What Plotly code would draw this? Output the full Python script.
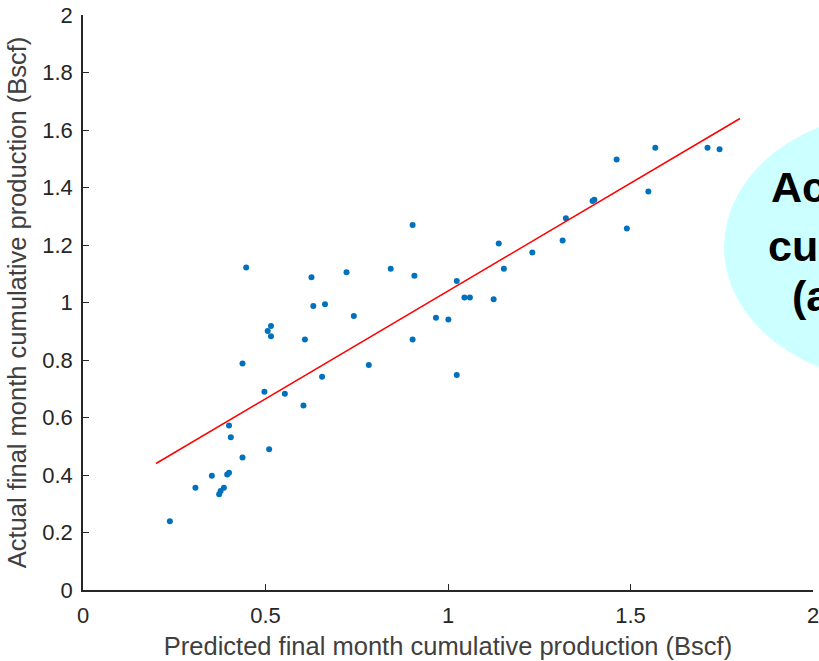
import plotly.graph_objects as go

# Predicted vs. actual final month cumulative production (Bscf)
predicted = [0.238, 0.308, 0.353, 0.373, 0.377, 0.386, 0.395, 0.400, 0.400, 0.405,
             0.437, 0.437, 0.447, 0.497, 0.506, 0.510, 0.515, 0.515, 0.553, 0.604,
             0.608, 0.626, 0.631, 0.655, 0.663, 0.722, 0.742, 0.783, 0.843, 0.903,
             0.903, 0.908, 0.967, 1.001, 1.024, 1.024, 1.045, 1.060, 1.125, 1.139,
             1.153, 1.231, 1.314, 1.323, 1.396, 1.401, 1.462, 1.490, 1.549, 1.568,
             1.711, 1.744]
actual = [0.239, 0.356, 0.397, 0.333, 0.344, 0.356, 0.402, 0.408, 0.572, 0.531,
          0.461, 0.788, 1.122, 0.690, 0.901, 0.490, 0.918, 0.883, 0.683, 0.642,
          0.871, 1.088, 0.988, 0.742, 0.994, 1.105, 0.953, 0.783, 1.117, 1.270,
          0.871, 1.093, 0.947, 0.941, 1.075, 0.748, 1.017, 1.017, 1.011, 1.205,
          1.117, 1.174, 1.216, 1.293, 1.353, 1.357, 1.497, 1.257, 1.386, 1.538,
          1.538, 1.533]

# Fit line endpoints
fit_x = [0.2, 1.8]
fit_intercept = 0.29
fit_slope = 0.75
fit_y = [fit_intercept + fit_slope * v for v in fit_x]

x_ticks = [0, 0.5, 1, 1.5, 2]
x_tick_labels = ["0", "0.5", "1", "1.5", "2"]
y_ticks = [0, 0.2, 0.4, 0.6, 0.8, 1, 1.2, 1.4, 1.6, 1.8, 2]
y_tick_labels = ["0", "0.2", "0.4", "0.6", "0.8", "1", "1.2", "1.4", "1.6", "1.8", "2"]

callout_lines = ["Actual", "cumulative", "(actual)"]

W, H = 819, 661
ML, MR, MT, MB = 83, 6, 15, 71

fig = go.Figure()
fig.add_trace(go.Scatter(
    x=predicted, y=actual, mode="markers",
    marker=dict(color="#0072BD", size=6, line=dict(width=0)),
    showlegend=False, cliponaxis=False,
))
fig.add_trace(go.Scatter(
    x=fit_x, y=fit_y, mode="lines",
    line=dict(color="#FF0000", width=1.5),
    showlegend=False,
))

axis_font = dict(family="Liberation Sans, Arial, sans-serif", size=22, color="#262626")
title_font = dict(family="Liberation Sans, Arial, sans-serif", size=25.5, color="#404040")

fig.update_xaxes(
    range=[0, 2], tickvals=x_ticks, ticktext=x_tick_labels,
    ticks="inside", ticklen=6, tickwidth=1.3, tickcolor="#262626",
    showline=True, linecolor="#262626", linewidth=1.5,
    showgrid=False, zeroline=False, tickfont=axis_font,
    ticklabelstandoff=5, ticklabeloverflow="allow", automargin=False,
    title=dict(text="Predicted final month cumulative production (Bscf)",
               font=title_font, standoff=10),
)
fig.update_yaxes(
    range=[0, 2], tickvals=y_ticks, ticktext=y_tick_labels,
    ticks="inside", ticklen=6, tickwidth=1.3, tickcolor="#262626",
    showline=True, linecolor="#262626", linewidth=1.5,
    showgrid=False, zeroline=False, tickfont=axis_font,
    ticklabelstandoff=4, ticklabeloverflow="allow", automargin=False,
    title=dict(text="Actual final month cumulative production (Bscf)",
               font=title_font, standoff=8),
)


def px_x(p):
    return (p - ML) / (W - ML - MR)


def px_y(p):
    return (H - MB - p) / (H - MT - MB)


# Callout bubble on the right
fig.add_shape(
    type="circle", xref="paper", yref="paper",
    x0=px_x(724), x1=px_x(1076), y0=px_y(382), y1=px_y(112),
    fillcolor="#CCFFFF", line=dict(width=0), layer="below",
)
callout_font = dict(family="Liberation Sans, Arial, sans-serif", size=43, color="#000000")
for text, left, mid in zip(callout_lines, [769, 766, 790], [187, 246, 296]):
    fig.add_annotation(
        text="<b>" + text + "</b>", xref="paper", yref="paper",
        x=px_x(left), y=px_y(mid), xanchor="left", yanchor="middle",
        showarrow=False, font=callout_font, align="left",
    )

fig.update_layout(
    width=W, height=H,
    margin=dict(l=ML, r=MR, t=MT, b=MB, autoexpand=False),
    paper_bgcolor="white", plot_bgcolor="white",
)

fig.write_html("out.html")
